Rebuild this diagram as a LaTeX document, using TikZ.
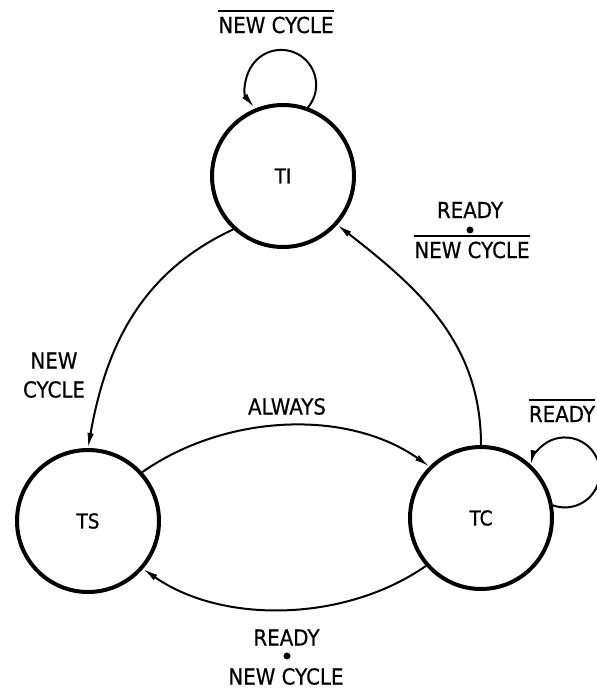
\documentclass[tikz,border=0pt]{standalone}
\usepackage{fontspec}
\setmainfont{DejaVu Sans}[FakeStretch=0.9,FakeBold=0.6]
\usetikzlibrary{arrows.meta}
\begin{document}
\begin{tikzpicture}[x=1pt,y=1pt,
  state/.style={circle,draw,line width=4pt,minimum size=142pt,inner sep=0pt,font=\fontsize{20.5}{24}\selectfont},
  lbl/.style={inner sep=0pt,font=\fontsize{22}{26}\selectfont},
  edge/.style={line width=2pt,-{Latex[length=15pt,width=6.5pt]}},
  bar/.style={line width=2.2pt},
  dot/.style={circle,fill,inner sep=0pt,minimum size=7pt},
]
\useasboundingbox (0,0) rectangle (597,689);
\node[state] (TI) at (283,513) {TI};
\node[state] (TS) at (88,168) {TS};
\node[state] (TC) at (481,171) {TC};

\draw[edge] (TI.-133) to[out=-155,in=80] (TS.90);
\draw[edge] (TC.90) to[out=90,in=-38] (TI.-42);
\draw[edge] (TS.42) to[out=35,in=145,looseness=0.9] (TC.135);
\draw[edge] (TC.-139) to[out=-145,in=-35,looseness=0.88] (TS.-41);
\draw[edge] (TI.70) arc[start angle=-40,end angle=220,radius=35];
\draw[edge] (TC.10) arc[start angle=-110,end angle=168,radius=35];

\node[lbl] (l1) at (276,664) {NEW CYCLE};
\draw[bar] ([yshift=5.5pt]l1.north west) -- ([yshift=5.5pt]l1.north east);

\node[lbl] (l2a) at (470,479) {READY};
\node[dot] (d2) at (470,459) {};
\node[lbl] (l2b) at (472,439) {NEW CYCLE};
\draw[bar] ([yshift=5.5pt]l2b.north west) -- ([yshift=5.5pt]l2b.north east);

\node[lbl] (l3a) at (54,328.5) {NEW};
\node[lbl] (l3b) at (54,299.5) {CYCLE};

\node[lbl] (l4) at (287,282.5) {ALWAYS};

\node[lbl] (l5) at (562,275) {READY};
\draw[bar] ([yshift=6pt]l5.north west) -- ([yshift=6pt]l5.north east);

\node[lbl] (l6a) at (286.5,51.5) {READY};
\node[dot] (d6) at (287,33) {};
\node[lbl] (l6b) at (286,12.5) {NEW CYCLE};
\end{tikzpicture}
\end{document}
